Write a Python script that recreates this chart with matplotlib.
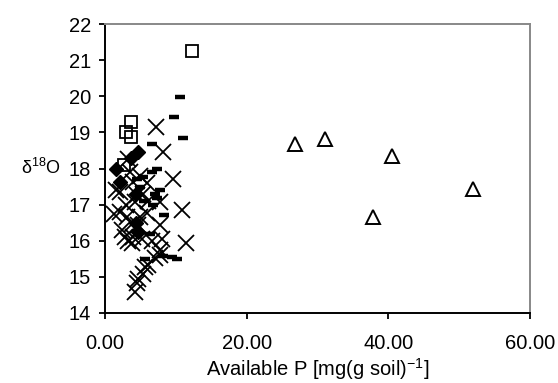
import matplotlib
matplotlib.use("Agg")
import matplotlib.pyplot as plt

plt.rcParams['font.family'] = ['Liberation Sans', 'DejaVu Sans']
plt.rcParams['mathtext.fontset'] = 'custom'
plt.rcParams['mathtext.rm'] = 'Liberation Sans'
plt.rcParams['mathtext.default'] = 'regular'

# Series data
sq_x = [12.3, 3.6, 3.0, 3.6, 2.7]
sq_y = [21.25, 19.3, 19.0, 18.88, 18.1]

tri_x = [26.8, 31.1, 37.8, 40.5, 52.0]
tri_y = [18.69, 18.82, 16.66, 18.34, 17.43]

dia_x = [1.6, 2.1, 3.7, 4.6, 4.4, 4.4, 4.6]
dia_y = [18.0, 17.63, 18.3, 18.45, 17.3, 16.5, 16.25]

dash_x = [10.6, 9.8, 11.0, 6.6, 7.3, 6.6, 5.4, 4.9, 7.8, 7.0, 8.3, 6.4, 5.6,
          8.2, 9.4, 10.1, 7.3, 6.8, 5.5, 4.5]
dash_y = [19.99, 19.42, 18.84, 18.68, 18.0, 17.9, 17.76, 17.48, 17.4, 17.3,
          16.7, 16.2, 15.5, 15.57, 15.55, 15.5, 17.17, 17.0, 17.1, 17.7]

x_x = [7.2, 8.2, 3.3, 9.65, 4.0, 2.1, 10.8, 11.5, 2.1, 7.8, 7.8, 8.0, 7.8, 6.6,
       5.9, 4.9, 3.06, 2.35, 2.8, 3.8, 5.2, 4.7, 4.2, 5.4, 4.5, 5.65, 7.8, 6.1,
       5.4, 4.7, 4.5, 4.2, 7.06, 1.2, 1.5, 3.5, 3.0, 3.8, 4.0, 5.0, 6.0, 3.2, 5.9]
x_y = [19.14, 18.45, 18.25, 17.72, 17.63, 17.36, 16.85, 15.93, 16.8, 17.08,
       16.43, 16.06, 15.74, 16.0, 16.76, 16.66, 16.66, 16.3, 16.1, 15.93, 16.06,
       16.43, 17.08, 17.3, 17.26, 15.28, 15.6, 15.32, 15.09, 14.95, 14.82, 14.58,
       15.51, 16.75, 17.4, 17.9, 17.0, 16.45, 16.1, 17.8, 17.1, 16.0, 17.6]

x_ticks = [0, 20, 40, 60]
y_ticks = [14, 15, 16, 17, 18, 19, 20, 21, 22]

fig = plt.figure(figsize=(5.58, 3.83), dpi=100)
ax = fig.add_axes([105/558, 1-313/383, (530-105)/558, (313-24)/383])

ax.plot(x_x, x_y, linestyle='none', marker='x', markersize=11.5, mew=1.3,
        color='black', zorder=3)
ax.plot(dash_x, dash_y, linestyle='none', marker='_', markersize=7, mew=3.2,
        color='black', zorder=3)
ax.plot(dia_x, dia_y, linestyle='none', marker='D', markersize=7,
        color='black', zorder=4)
ax.plot(sq_x, sq_y, linestyle='none', marker='s', markersize=8.5, mew=1.3,
        mfc='none', mec='black', zorder=5)
ax.plot(tri_x, tri_y, linestyle='none', marker='^', markersize=9.5, mew=1.4,
        mfc='none', mec='black', zorder=5)

ax.set_xlim(0, 60)
ax.set_ylim(14, 22)
ax.set_xticks(x_ticks)
ax.set_xticklabels([f"{v:.2f}" for v in x_ticks])
ax.set_yticks(y_ticks)
ax.set_yticklabels([str(v) for v in y_ticks])

ax.tick_params(axis='both', direction='out', length=4, width=1.3,
               labelsize=14.5, colors='black', pad=6)
ax.tick_params(axis='x', pad=11)

for s in ['left', 'bottom']:
    ax.spines[s].set_color('black')
    ax.spines[s].set_linewidth(1.4)
for s in ['top', 'right']:
    ax.spines[s].set_color('#888888')
    ax.spines[s].set_linewidth(1.4)

ax.set_xlabel("Available P [mg(g soil)$^{-1}$]", fontsize=14.5, labelpad=2)
fig.text(41/558, 1-168/383, "δ$^{18}$O", fontsize=13, ha='center', va='center')

fig.savefig("out.png", dpi=100)
